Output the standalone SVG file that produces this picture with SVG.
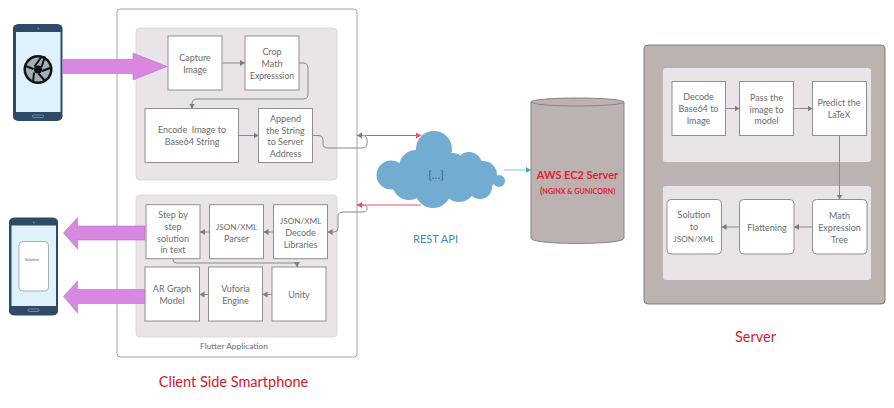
<svg xmlns="http://www.w3.org/2000/svg" width="894" height="408" viewBox="0 0 894 408">
<style>
text{font-family:Lato,"Open Sans","Liberation Sans",sans-serif;text-anchor:middle}
.t{font-size:9px;fill:#6b6b6b}
.n{font-size:8.200px}
.b{fill:#fff;stroke:#8f8f8f;stroke-width:1}
.p{fill:#e8e4e8;stroke:#dcd8dc;stroke-width:1}
.s{fill:#e8e4e8}
.c{fill:none;stroke:#8a8a8a;stroke-width:1}
.big{fill:#cf1b2b;font-size:14.500px}
.fat{fill:#d988e2;stroke:#a77db0;stroke-width:.6}
.ph{fill:#2f4a66}
.scr{fill:#dff1fa}
</style>
<defs>
<marker id="g" markerWidth="7" markerHeight="7" refX="5" refY="3" orient="auto" markerUnits="userSpaceOnUse"><path d="M0 0L5 3L0 6Z" fill="#7d7d7d"/></marker>
<marker id="r" markerWidth="7" markerHeight="7" refX="5" refY="3" orient="auto" markerUnits="userSpaceOnUse"><path d="M0 0L5 3L0 6Z" fill="#ee4d72"/></marker>
<marker id="bl" markerWidth="7" markerHeight="7" refX="5" refY="3" orient="auto" markerUnits="userSpaceOnUse"><path d="M0 0L5 3L0 6Z" fill="#3fa9d6"/></marker>
</defs>

<g id="client-frame"><rect x="117" y="9" width="240" height="348" rx="3" fill="#fff" stroke="#a5a5a5" stroke-width="1"/>
<text x="234" y="349" class="t" style="font-size:8.400px">Flutter Application</text></g>
<g id="panel-upload"><rect x="136" y="28" width="201" height="152" rx="4" class="p"/></g>
<g id="panel-download"><rect x="136" y="195" width="201" height="142" rx="4" class="p"/></g>
<g id="server"><rect x="644" y="45" width="241" height="259" rx="4" fill="#bcb2b2" stroke="#7f7a7a" stroke-width="1"/></g>
<g id="server-panel-1"><rect x="663" y="68" width="208" height="94" rx="3" class="s"/></g>
<g id="server-panel-2"><rect x="663" y="186" width="208" height="94" rx="3" class="s"/></g>

<g id="phone-camera">
<rect x="13" y="24" width="49.500" height="97" rx="6" ry="4" class="ph"/>
<rect x="16" y="32" width="44.500" height="80" class="scr"/>
<circle cx="38" cy="69.500" r="14.500" fill="#111"/>
<circle cx="38" cy="69.500" r="12" fill="#9fb0b8"/>
<path d="M34.500 66.500L41 57.500M41.500 67L45 56.500M42 71L50 68M38.500 73.500L45.500 81.500M34 72.500L33 82.500M33.500 69L25.500 66" stroke="#111" stroke-width="2" fill="none"/>
<circle cx="38" cy="69.500" r="4" fill="#111"/>
<circle cx="38.500" cy="28.500" r="1" fill="#5b8fa8"/>
<rect x="32.500" y="115" width="11" height="2.500" rx="1" fill="none" stroke="#8ea2b2" stroke-width=".7"/>
</g>
<g id="phone-solution">
<rect x="9" y="217.500" width="49" height="98" rx="6" ry="4" class="ph"/>
<rect x="11.500" y="225.500" width="44.500" height="80.500" class="scr"/>
<rect x="19" y="241.500" width="29.500" height="49.500" rx="4" fill="#fff" stroke="#8f8f8f" stroke-width=".7"/>
<text x="32" y="261" style="font-size:4px;fill:#666">Solution</text>
<circle cx="34" cy="222.500" r="1" fill="#5b8fa8"/>
<rect x="28" y="309" width="11" height="2.500" rx="1" fill="none" stroke="#8ea2b2" stroke-width=".7"/>
</g>

<g id="connectors">
<path class="fat" d="M62.500 59.500H133V53L167 66.500L133 80V73.500H62.500Z"/>
<path class="fat" d="M145 226H77.500V217.500L63.500 233L77.500 249V240H145Z"/>
<path class="fat" d="M145 289.500H77.500V281L63.500 296.500L77.500 313V303.500H145Z"/>
<path class="c" marker-end="url(#g)" d="M222 63H245"/>
<path class="c" marker-end="url(#g)" d="M299 63H303Q308 63 308 68V94Q308 99 303 99H197Q192 99 192 104V108.500"/>
<path class="c" marker-end="url(#g)" d="M238.500 135.500H258.500"/>
<path class="c" marker-end="url(#g)" d="M312.500 135.500H318Q323 135.500 323 140V144Q323 148 328 148H362Q367 148 367 144V140Q367 135.500 362 135.500H357"/>
<path d="M365 135.500H421" fill="none" stroke="#ee4d72" stroke-width="1" marker-end="url(#r)"/>
<path class="c" d="M334 232Q338 232 338 228V216Q338 212 343 212H362Q367 212 367 209V208Q367 205 362 205H357"/>
<path d="M421 205H357" fill="none" stroke="#ee4d72" stroke-width="1" marker-end="url(#r)"/>
<path class="c" marker-end="url(#g)" d="M334 232H327.500"/>
<path class="c" marker-end="url(#g)" d="M273.500 232H263.500"/>
<path class="c" marker-end="url(#g)" d="M209.500 232H200"/>
<path class="c" marker-end="url(#g)" d="M173 258.700V260Q173 263 177 263H297V267"/>
<path class="c" marker-end="url(#g)" d="M272 294.500H262.500"/>
<path class="c" marker-end="url(#g)" d="M208.500 294.500H199.500"/>
<path d="M504 170H531" fill="none" stroke="#7cc4e2" stroke-width="1" marker-end="url(#bl)"/>
<path class="c" marker-end="url(#g)" d="M725.500 108.500H739.500"/>
<path class="c" marker-end="url(#g)" d="M793.500 108.500H812.500"/>
<path class="c" marker-end="url(#g)" d="M839.500 135.500V199.500"/>
<path class="c" marker-end="url(#g)" d="M812.500 227H794"/>
<path class="c" marker-end="url(#g)" d="M739.500 227H721.500"/>
</g>

<g id="capture"><rect x="168" y="36" width="54" height="54" class="b"/><text x="195" y="60.500" class="t">Capture</text><text x="195" y="72.500" class="t">Image</text></g>
<g id="crop"><rect x="245" y="36" width="54" height="54" class="b"/><text x="272" y="54.500" class="t">Crop</text><text x="272" y="66.500" class="t">Math</text><text x="272" y="78.500" class="t" style="font-size:8.500px">Expresssion</text></g>
<g id="encode"><rect x="145" y="108.500" width="93.500" height="54" class="b"/><text x="192" y="133" class="t" xml:space="preserve">Encode  Image to</text><text x="192" y="145" class="t">Base64 String</text></g>
<g id="append"><rect x="258.500" y="108.500" width="54" height="54" class="b"/><text x="285.500" y="122" class="t">Append</text><text x="285.500" y="133.500" class="t">the String</text><text x="285.500" y="145" class="t">to Server</text><text x="285.500" y="156.500" class="t">Address</text></g>
<g id="step"><rect x="146" y="204.700" width="54" height="54" class="b"/><text x="173" y="218" class="t">Step by</text><text x="173" y="230" class="t">step</text><text x="173" y="241.500" class="t">solution</text><text x="173" y="253" class="t">in text</text></g>
<g id="parser"><rect x="209.500" y="204.700" width="54" height="54" class="b"/><text x="236.500" y="230" class="t n">JSON/XML</text><text x="236.500" y="241.500" class="t">Parser</text></g>
<g id="decode-lib"><rect x="273.500" y="204.700" width="54" height="54" class="b"/><text x="300.500" y="224" class="t n">JSON/XML</text><text x="300.500" y="236" class="t">Decode</text><text x="300.500" y="247.500" class="t">Libraries</text></g>
<g id="ar"><rect x="145" y="267" width="54.500" height="54" class="b"/><text x="172" y="292" class="t">AR Graph</text><text x="172" y="304" class="t">Model</text></g>
<g id="vuforia"><rect x="208.500" y="267" width="54" height="54" class="b"/><text x="235.500" y="291.500" class="t">Vuforia</text><text x="235.500" y="303.500" class="t">Engine</text></g>
<g id="unity"><rect x="272" y="267" width="54" height="54" class="b"/><text x="299" y="297.500" class="t">Unity</text></g>

<g id="rest-api">
<g fill="#72acd0">
<circle cx="434" cy="149" r="18"/><circle cx="391" cy="175" r="14.500"/><circle cx="416" cy="167" r="17"/><circle cx="409" cy="183" r="17"/>
<circle cx="452" cy="170" r="17"/><circle cx="469" cy="165" r="13"/><circle cx="483" cy="175" r="14"/><circle cx="499" cy="181" r="6"/>
<circle cx="433" cy="190" r="18"/><circle cx="459" cy="185" r="17"/><circle cx="480" cy="187" r="12"/><rect x="400" y="165" width="85" height="22"/>
</g>
<text x="436" y="179" style="font-size:12px;fill:#44647a">{...}</text>
<text x="435.500" y="243" style="font-size:11px;fill:#3f88c2">REST API</text>
</g>

<g id="aws">
<path d="M531 102V238Q531 243 577.500 243.500Q624 243 624 238V102Z" fill="#bcb2b2" stroke="#8a8383" stroke-width="1"/>
<ellipse cx="577.500" cy="102" rx="46.500" ry="4" fill="#bcb2b2" stroke="#8a8383" stroke-width="1"/>
<text x="577.500" y="179" style="font-size:11px;font-weight:700;fill:#e5202e">AWS EC2 Server</text>
<text x="577.500" y="194" style="font-size:7.200px;font-weight:700;fill:#e5202e"><tspan style="font-size:9px">(</tspan>NGINX &amp; GUNICORN)</text>
</g>

<g id="decode-b64"><rect x="672" y="81.500" width="53.500" height="54" class="b"/><text x="698.500" y="100" class="t">Decode</text><text x="698.500" y="112" class="t">Base64 to</text><text x="698.500" y="124" class="t">Image</text></g>
<g id="pass"><rect x="739.500" y="81.500" width="54" height="54" class="b"/><text x="766.500" y="101" class="t">Pass the</text><text x="766.500" y="112.500" class="t">image to</text><text x="766.500" y="124" class="t">model</text></g>
<g id="predict"><rect x="812.500" y="81.500" width="54" height="54" class="b"/><text x="839" y="106" class="t">Predict the</text><text x="839" y="118" class="t">LaTeX</text></g>
<g id="tree"><rect x="812.500" y="199.500" width="54.500" height="54.500" rx="4" class="b"/><text x="839.500" y="218.500" class="t">Math</text><text x="839.500" y="230.500" class="t">Expression</text><text x="839.500" y="242.500" class="t">Tree</text></g>
<g id="flatten"><rect x="739.500" y="199.500" width="54.500" height="54.500" rx="4" class="b"/><text x="767" y="230.500" class="t">Flattening</text></g>
<g id="solution"><rect x="667" y="199.500" width="54.500" height="54.500" rx="4" class="b"/><text x="694" y="218" class="t">Solution</text><text x="694" y="230" class="t">to</text><text x="694" y="242" class="t n">JSON/XML</text></g>

<text x="233.500" y="387" class="big">Client Side Smartphone</text>
<text x="755.500" y="342" class="big">Server</text>
</svg>
